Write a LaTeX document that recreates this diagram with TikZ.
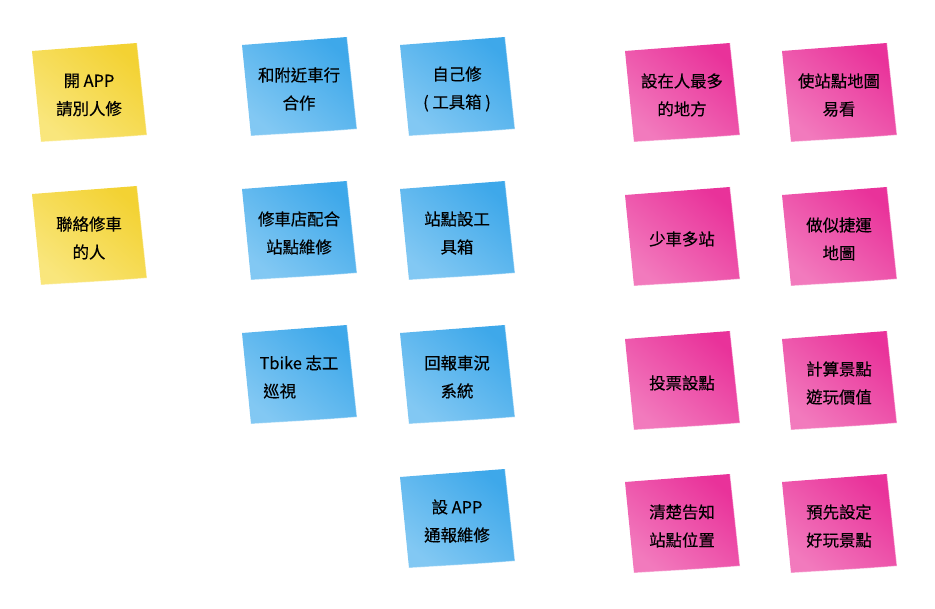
\documentclass[tikz,border=0pt]{standalone}
\usepackage{fontspec}
\setmainfont{Noto Sans CJK TC}
\newfontfamily\cjktc[FakeBold=0.35]{Noto Sans CJK TC}
\definecolor{ydark}{HTML}{F3D233}
\definecolor{ymid}{HTML}{F5DA48}
\definecolor{ylight}{HTML}{F9E67C}
\definecolor{bdark}{HTML}{3EA8EA}
\definecolor{bmid}{HTML}{4DB2ED}
\definecolor{blight}{HTML}{82C8F3}
\definecolor{pdark}{HTML}{E9329A}
\definecolor{pmid}{HTML}{EC44A3}
\definecolor{plight}{HTML}{F27ABD}
\tikzset{
  yellownote/.style={top color=ydark, middle color=ymid, bottom color=ylight, shading angle=-40},
  bluenote/.style={top color=bdark, middle color=bmid, bottom color=blight, shading angle=-40},
  pinknote/.style={top color=pdark, middle color=pmid, bottom color=plight, shading angle=-40},
  notetext/.style={align=center, text=black, font=\cjktc\fontsize{12.3}{21}\selectfont},
  noteedge/.style={draw=white, draw opacity=0.45, line width=0.8pt}
}
\newcommand\stickynote[6][center]{%
  \begin{scope}[shift={(#3,#4)}]
    \shade[#5] (0,8) -- (105,0) -- (115,92) .. controls (80,95) and (40,97) .. (9,99) -- cycle;
    \draw[noteedge] (105,0) -- (115,92) .. controls (80,95) and (40,97) .. (9,99);
    \node[notetext, align=#1] (#2) at (57,52) {#6};
  \end{scope}}
\begin{document}
\begin{tikzpicture}[x=0.75pt, y=-0.75pt]
\useasboundingbox (0,0) rectangle (935,609);
% yellow
\stickynote{y1}{32}{43}{yellownote}{開 APP\\請別人修}
\stickynote{y2}{32}{186}{yellownote}{聯絡修車\\的人}
% blue column 1
\stickynote{b1}{242}{37}{bluenote}{和附近車行\\合作}
\stickynote{b2}{242}{181}{bluenote}{修車店配合\\站點維修}
\stickynote[left]{b3}{242}{325}{bluenote}{Tbike 志工\\\ 巡視}
% blue column 2
\stickynote{c1}{400}{37}{bluenote}{自己修\\( 工具箱 )}
\stickynote{c2}{400}{181}{bluenote}{站點設工\\具箱}
\stickynote{c3}{400}{325}{bluenote}{回報車況\\系統}
\stickynote{c4}{400}{469}{bluenote}{設 APP\\通報維修}
% pink column 1
\stickynote{p1}{625}{43}{pinknote}{設在人最多\\的地方}
\stickynote{p2}{625}{187}{pinknote}{少車多站}
\stickynote{p3}{625}{331}{pinknote}{投票設點}
\stickynote{p4}{625}{474}{pinknote}{清楚告知\\站點位置}
% pink column 2
\stickynote{q1}{782}{43}{pinknote}{使站點地圖\\易看}
\stickynote{q2}{782}{187}{pinknote}{做似捷運\\地圖}
\stickynote{q3}{782}{331}{pinknote}{計算景點\\遊玩價值}
\stickynote{q4}{782}{474}{pinknote}{預先設定\\好玩景點}
\end{tikzpicture}
\end{document}
